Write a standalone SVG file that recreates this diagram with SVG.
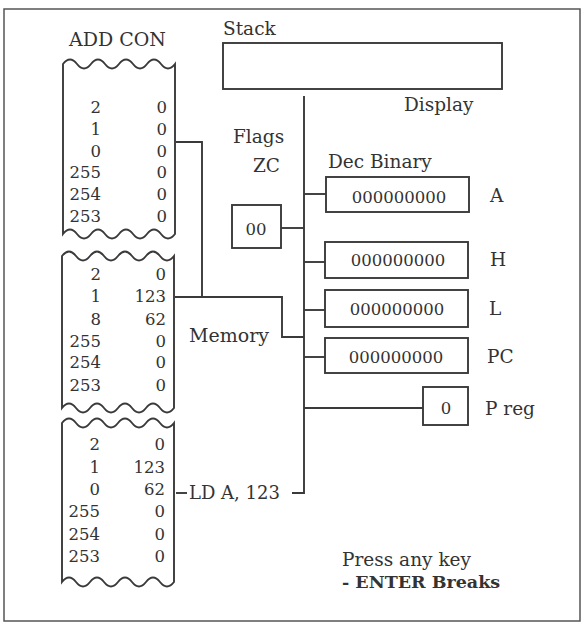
<svg xmlns="http://www.w3.org/2000/svg" width="585" height="625" viewBox="0 0 585 625">
<style>
.ln{fill:none;stroke:#3a3a3a;stroke-width:1.9;stroke-linejoin:miter}
.bx{fill:#fff;stroke:#3a3a3a;stroke-width:1.9}
.t{font-family:"DejaVu Serif","Liberation Serif",serif;fill:#333;font-size:18.5px}
.d{font-family:"DejaVu Serif","Liberation Serif",serif;fill:#333;font-size:16.5px}
.r{text-anchor:end}
.m{text-anchor:middle}
</style>
<rect width="585" height="625" fill="#fff"/>
<rect x="4" y="9" width="576" height="612" fill="none" stroke="#555" stroke-width="1.5"/>

<g id="tape1">
<path class="ln" d="M63,64 q7,-9 14,0 t14,0 t14,0 t14,0 t14,0 t14,0 t14,0 t14,0 V234 q-7,9 -14,0 t-14,0 t-14,0 t-14,0 t-14,0 t-14,0 t-14,0 t-14,0 Z"/>
<g class="d r">
<text x="101" y="113">2</text><text x="101" y="135">1</text><text x="101" y="157">0</text><text x="101" y="178">255</text><text x="101" y="200">254</text><text x="101" y="222">253</text>
<text x="167" y="113">0</text><text x="167" y="135">0</text><text x="167" y="157">0</text><text x="167" y="178">0</text><text x="167" y="200">0</text><text x="167" y="222">0</text>
</g>
</g>
<g id="tape2">
<path class="ln" d="M62,256 q7,-9 14,0 t14,0 t14,0 t14,0 t14,0 t14,0 t14,0 t14,0 V408 q-7,9 -14,0 t-14,0 t-14,0 t-14,0 t-14,0 t-14,0 t-14,0 t-14,0 Z"/>
<g class="d r">
<text x="101" y="280">2</text><text x="101" y="302">1</text><text x="101" y="325">8</text><text x="101" y="347">255</text><text x="101" y="368">254</text><text x="101" y="391">253</text>
<text x="166" y="280">0</text><text x="166" y="302">123</text><text x="166" y="325">62</text><text x="166" y="347">0</text><text x="166" y="368">0</text><text x="166" y="391">0</text>
</g>
</g>
<g id="tape3">
<path class="ln" d="M62,423 q7,-9 14,0 t14,0 t14,0 t14,0 t14,0 t14,0 t14,0 t14,0 V582 q-7,9 -14,0 t-14,0 t-14,0 t-14,0 t-14,0 t-14,0 t-14,0 t-14,0 Z"/>
<g class="d r">
<text x="100" y="450">2</text><text x="100" y="473">1</text><text x="100" y="495">0</text><text x="100" y="517">255</text><text x="100" y="540">254</text><text x="100" y="562">253</text>
<text x="165" y="450">0</text><text x="165" y="473">123</text><text x="165" y="495">62</text><text x="165" y="517">0</text><text x="165" y="540">0</text><text x="165" y="562">0</text>
</g>
</g>

<g id="connectors">
<path class="ln" d="M176,142 H202 V297"/>
<path class="ln" d="M175,297 H282 V337 H304"/>
<path class="ln" d="M304,96 V493 H292"/>
<path class="ln" d="M176,493 H187"/>
<path class="ln" d="M281,228 H304"/>
<path class="ln" d="M304,194 H326"/>
<path class="ln" d="M304,262 H325"/>
<path class="ln" d="M304,310 H325"/>
<path class="ln" d="M304,357 H325"/>
<path class="ln" d="M304,408 H423"/>
</g>

<g id="labels">
<text class="t" x="69" y="46" style="font-size:19px">ADD CON</text>
<text class="t" x="223" y="35">Stack</text>
<text class="t" x="404" y="111">Display</text>
<text class="t" x="233" y="143">Flags</text>
<text class="t" x="253" y="172">ZC</text>
<text class="t" x="328" y="168">Dec Binary</text>
<text class="t" x="189" y="342" style="font-size:19px">Memory</text>
<text class="t" x="189" y="499" style="font-size:18px">LD A, 123</text>
<text class="t" x="342" y="566">Press any key</text>
<text class="t" x="342" y="588" style="font-weight:bold;font-size:17.5px">- ENTER Breaks</text>
</g>

<g id="stack"><rect class="bx" x="223" y="43" width="279" height="46"/></g>
<g id="flags"><rect class="bx" x="232" y="205" width="49" height="43"/><text class="d m" x="256" y="235">00</text></g>
<g id="regA"><rect class="bx" x="326" y="177" width="143" height="35"/><text class="d m" x="399" y="203">000000000</text><text class="t" x="490" y="202">A</text></g>
<g id="regH"><rect class="bx" x="325" y="242" width="143" height="36"/><text class="d m" x="398" y="266">000000000</text><text class="t" x="490" y="266">H</text></g>
<g id="regL"><rect class="bx" x="325" y="290" width="143" height="37"/><text class="d m" x="397" y="315">000000000</text><text class="t" x="489" y="315">L</text></g>
<g id="regPC"><rect class="bx" x="325" y="338" width="143" height="35"/><text class="d m" x="396" y="363">000000000</text><text class="t" x="487" y="363">PC</text></g>
<g id="preg"><rect class="bx" x="423" y="387" width="45" height="38"/><text class="d m" x="446" y="414">0</text><text class="t" x="485" y="415">P reg</text></g>
</svg>
